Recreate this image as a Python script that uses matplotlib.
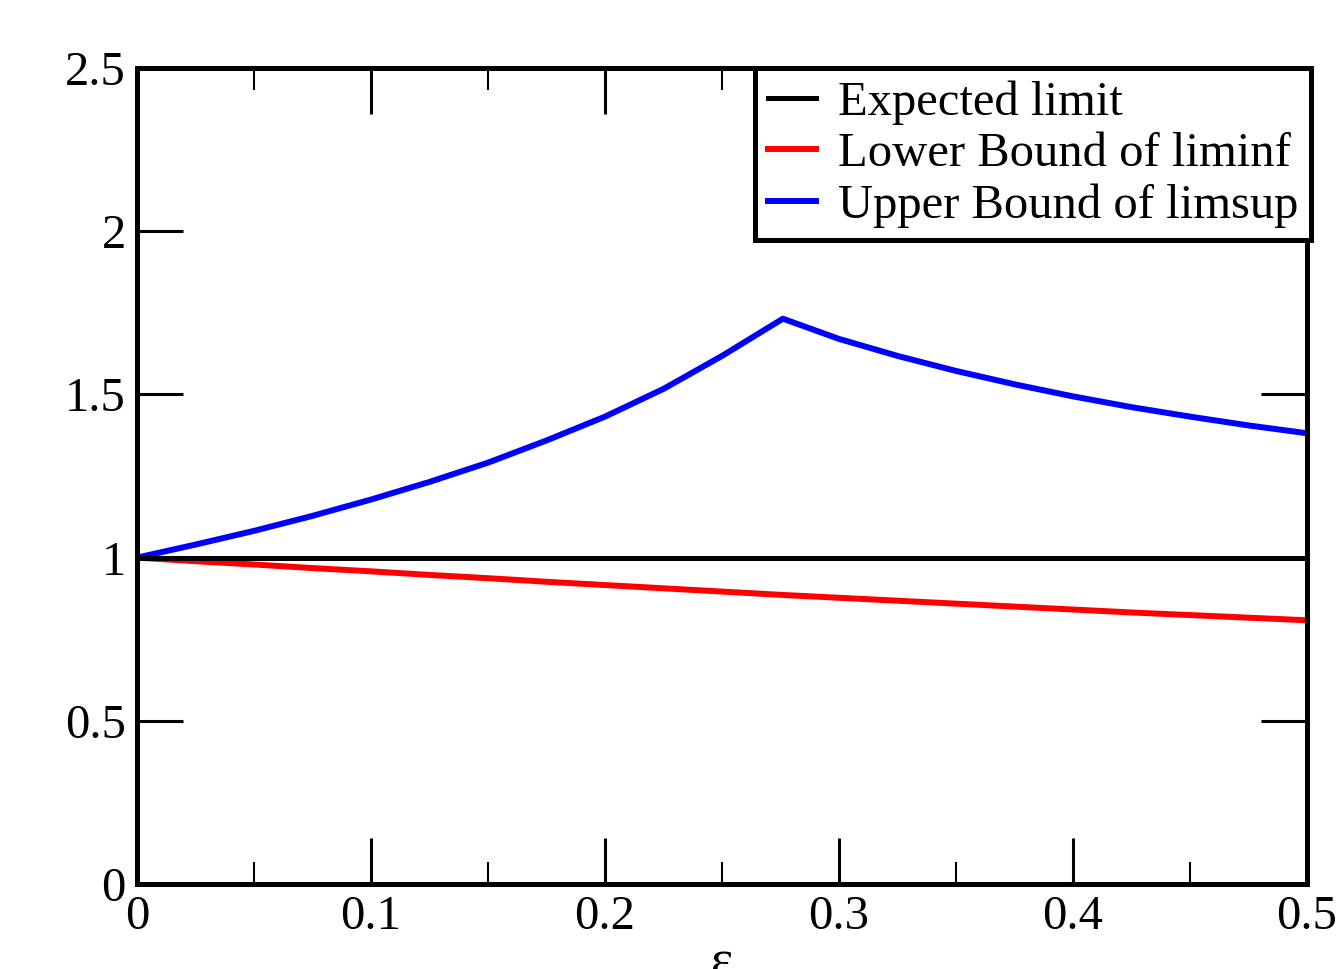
import matplotlib
matplotlib.use("Agg")
import matplotlib.pyplot as plt

# values
eps = [0, 0.025, 0.05, 0.075, 0.1, 0.125, 0.15, 0.175, 0.2, 0.225, 0.25, 0.276,
       0.3, 0.325, 0.35, 0.375, 0.4, 0.425, 0.45, 0.475, 0.5]
upper = [1.0, 1.04, 1.082, 1.128, 1.178, 1.232, 1.291, 1.359, 1.432, 1.517, 1.618, 1.732,
         1.67, 1.618, 1.572, 1.531, 1.494, 1.461, 1.432, 1.405, 1.381]
lower_eps = [0, 0.025, 0.05, 0.075, 0.1, 0.125, 0.15, 0.175, 0.2, 0.225, 0.25, 0.275,
             0.3, 0.325, 0.35, 0.375, 0.4, 0.425, 0.45, 0.475, 0.5]
lower = [1.0, 0.989, 0.979, 0.968, 0.958, 0.947, 0.937, 0.926, 0.916, 0.906, 0.896, 0.886,
         0.877, 0.868, 0.859, 0.85, 0.841, 0.832, 0.824, 0.816, 0.808]
expected_x = [0, 0.5]
expected_y = [1, 1]

xticks = [0, 0.1, 0.2, 0.3, 0.4, 0.5]
xticklabels = ["0", "0.1", "0.2", "0.3", "0.4", "0.5"]
xminor = [0.05, 0.15, 0.25, 0.35, 0.45]
yticks = [0, 0.5, 1, 1.5, 2, 2.5]
yticklabels = ["0", "0.5", "1", "1.5", "2", "2.5"]

plt.rcParams['font.family'] = ['Liberation Serif', 'DejaVu Serif']

fig = plt.figure(figsize=(13.37, 9.69), dpi=100)
ax = fig.add_axes([0.1025, 0.0877, 0.8751, 0.8421])

ax.plot(lower_eps, lower, color="red", lw=4.3, label="Lower Bound of liminf")
ax.plot(eps, upper, color="blue", lw=4.3, label="Upper Bound of limsup")
ax.plot(expected_x, expected_y, color="black", lw=3.6, label="Expected limit", zorder=3)

ax.set_xlim(0, 0.5)
ax.set_ylim(0, 2.5)
ax.set_xticks(xticks, xticklabels)
ax.set_xticks(xminor, minor=True)
ax.set_yticks(yticks, yticklabels)

ax.tick_params(which="major", direction="in", top=True, right=True, length=33,
               width=2.2, labelsize=35, pad=8)
ax.tick_params(which="minor", direction="in", top=True, right=True, length=16, width=1.5)
for s in ax.spines.values():
    s.set_linewidth(3.6)

ax.set_xlabel("ε", fontsize=38, labelpad=0)

h, l = ax.get_legend_handles_labels()
order = [2, 0, 1]
leg = ax.legend([h[i] for i in order], [l[i] for i in order], loc="upper right",
                bbox_to_anchor=(1.003, 1.0), fontsize=35, handlelength=1.0,
                handletextpad=0.45, labelspacing=0.15, borderpad=0.25,
                borderaxespad=0, fancybox=False, framealpha=1, edgecolor="black")
leg.get_frame().set_linewidth(3.6)

fig.savefig("out.png", dpi=100)
